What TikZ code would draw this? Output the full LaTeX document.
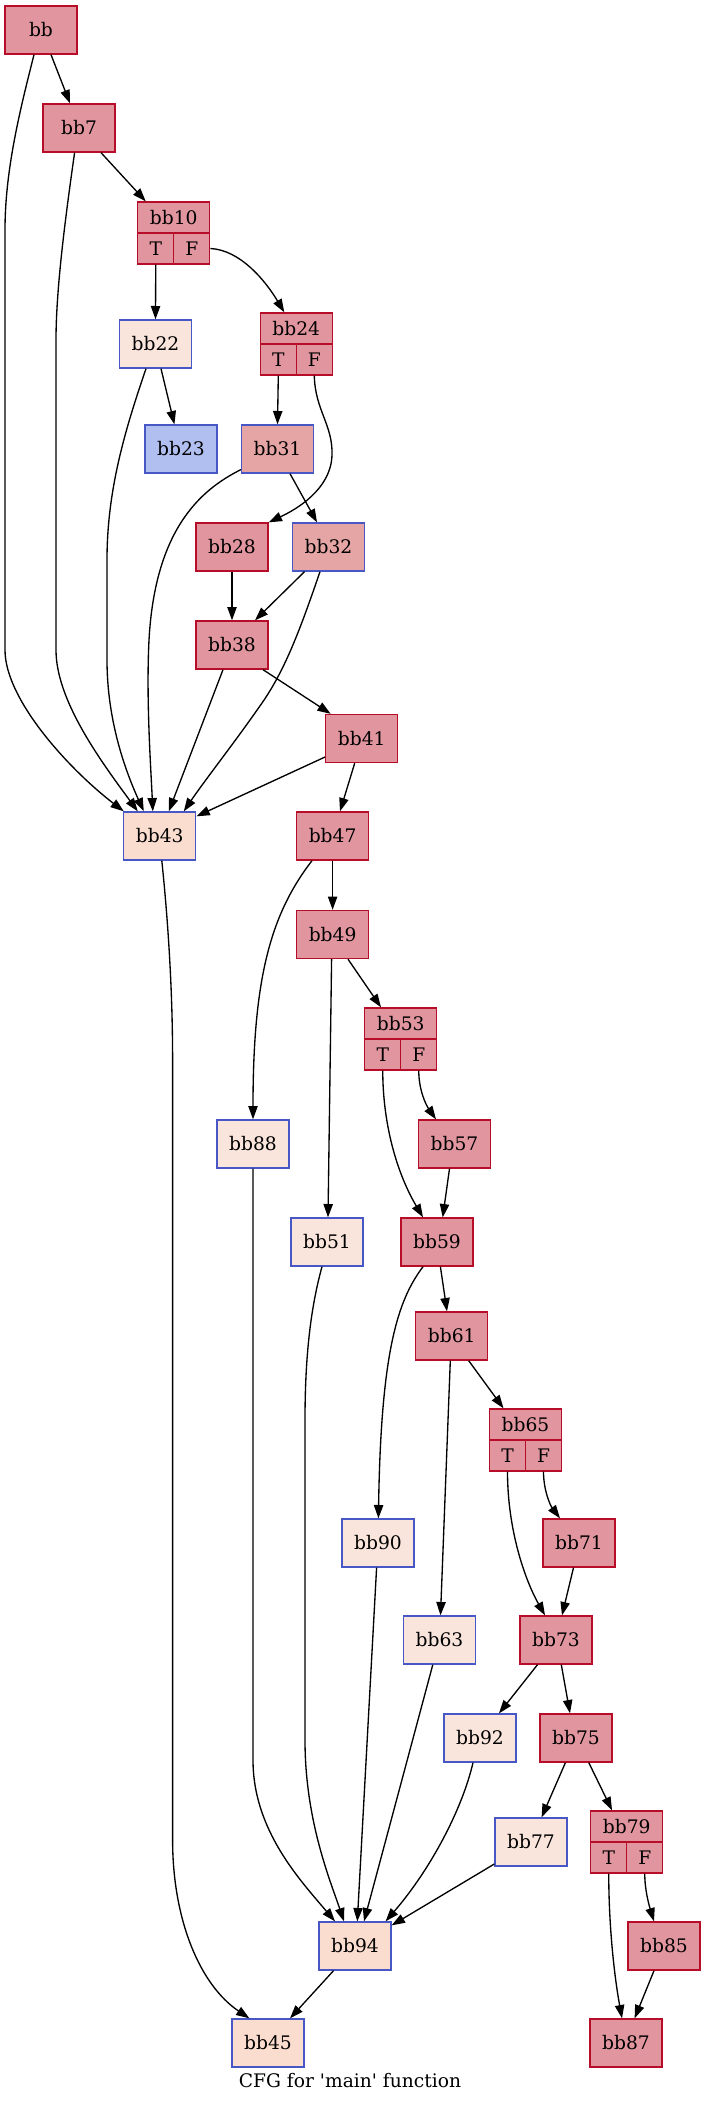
\documentclass[tikz,border=0pt]{standalone}
\usepackage{fontspec}
\setmainfont{DejaVu Serif}
\usetikzlibrary{calc,arrows.meta}
\definecolor{hotb}{HTML}{B70D28}
\definecolor{hotf}{HTML}{E0959F}
\definecolor{coldb}{HTML}{4758C6}
\definecolor{warmf}{HTML}{FBDDD0}
\definecolor{palef}{HTML}{F9E5DC}
\definecolor{bluef}{HTML}{B1BEF0}
\definecolor{midf}{HTML}{E5A5A5}
\tikzset{
  bbox/.style={rectangle, line width=1pt, minimum width=54pt, minimum height=36pt, inner sep=0pt, font=\fontsize{14}{16}\selectfont},
  hot/.style={bbox, draw=hotb, fill=hotf},
  hothead/.style={hot, minimum height=23.25pt},
  hotcell/.style={hot, minimum height=23.25pt, minimum width=27pt},
  warm/.style={bbox, draw=coldb, fill=warmf},
  pale/.style={bbox, draw=coldb, fill=palef},
  blue/.style={bbox, draw=coldb, fill=bluef},
  mid/.style={bbox, draw=coldb, fill=midf},
  e/.style={line width=1pt, -{Triangle[length=10pt,width=7pt]}},
}
\begin{document}
\begin{tikzpicture}[x=0.75pt,y=-0.75pt]
\useasboundingbox (0,0) rectangle (701,2104);
% nodes
\node[hot] (bb) at (41,30) {bb};
\node[hot] (bb7) at (79,128) {bb7};
\node[hothead] (bb10) at (173.75,217.5) {bb10};
\node[hotcell] (bb10T) at (155.75,248.5) {T};
\node[hotcell] (bb10F) at (191.75,248.5) {F};
\node[pale] (bb22) at (155.5,344) {bb22};
\node[hothead] (bb24) at (296.3,328.5) {bb24};
\node[hotcell] (bb24T) at (278.3,359.5) {T};
\node[hotcell] (bb24F) at (314.3,359.5) {F};
\node[blue] (bb23) at (181,449) {bb23};
\node[mid] (bb31) at (277.5,449) {bb31};
\node[hot] (bb28) at (232,547) {bb28};
\node[mid] (bb32) at (328.5,547) {bb32};
\node[hot] (bb38) at (232,645) {bb38};
\node[hot] (bb41) at (361.7,738.5) {bb41};
\node[warm] (bb43) at (159.8,836) {bb43};
\node[hot] (bb47) at (332.6,836) {bb47};
\node[hot] (bb49) at (332.6,934.5) {bb49};
\node[hothead] (bb53) at (400.75,1023.5) {bb53};
\node[hotcell] (bb53T) at (382.75,1054.5) {T};
\node[hotcell] (bb53F) at (418.75,1054.5) {F};
\node[pale] (bb88) at (253,1144) {bb88};
\node[hot] (bb57) at (454.5,1144) {bb57};
\node[pale] (bb51) at (327,1242) {bb51};
\node[hot] (bb59) at (437,1242) {bb59};
\node[hot] (bb61) at (451.7,1336) {bb61};
\node[hothead] (bb65) at (525.5,1424.5) {bb65};
\node[hotcell] (bb65T) at (507.5,1455.5) {T};
\node[hotcell] (bb65F) at (543.5,1455.5) {F};
\node[pale] (bb90) at (378,1543) {bb90};
\node[hot] (bb71) at (579,1543) {bb71};
\node[pale] (bb63) at (439.5,1640) {bb63};
\node[hot] (bb73) at (556,1640) {bb73};
\node[pale] (bb92) at (480,1738) {bb92};
\node[hot] (bb75) at (576,1738) {bb75};
\node[pale] (bb77) at (531,1842) {bb77};
\node[hothead] (bb79) at (626.75,1826.5) {bb79};
\node[hotcell] (bb79T) at (608.75,1857.5) {T};
\node[hotcell] (bb79F) at (644.75,1857.5) {F};
\node[warm] (bb94) at (355,1946) {bb94};
\node[hot] (bb85) at (664,1946) {bb85};
\node[warm] (bb45) at (268,2043) {bb45};
\node[hot] (bb87) at (626,2043) {bb87};
\node[font=\fontsize{14}{16}\selectfont, inner sep=0pt] (cap) at (350,2081) {CFG for \textquotesingle main\textquotesingle{} function};
% edges
\draw[e] ($(bb.south)+(10,0)$) -- ($(bb7.north)+(-9,0)$);
\draw[e] ($(bb.south)+(-7,0)$) .. controls (20,110) and (5,170) .. (5,230) -- (5,650) .. controls (5,700) and (70,770) .. ($(bb43.north)+(-36,0)$);
\draw[e] ($(bb7.south)+(22,0)$) -- ($(bb10.north)+(-28,0)$);
\draw[e] ($(bb7.south)+(-4.4,0)$) .. controls (65,220) and (56,290) .. (56,340) -- (56,650) .. controls (56,700) and (100,760) .. ($(bb43.north)+(-22,0)$);
\draw[e] (bb10T.south) -- (bb22.north);
\draw[e] (bb10F.east) .. controls (240,250) and (265,280) .. ($(bb24.north)+(-12,0)$);
\draw[e] ($(bb22.south)+(5.5,0)$) -- ($(bb23.north)+(-6.6,0)$);
\draw[e] ($(bb22.south)+(-9.5,0)$) .. controls (125,430) and (107,490) .. (107,560) -- (107,660) .. controls (107,720) and (125,770) .. ($(bb43.north)+(-16,0)$);
\draw[e] (bb24T.south) -- (bb31.north);
\draw[e] (bb24F.south) .. controls (315,410) and (333,425) .. (332,455) .. controls (331,490) and (295,510) .. (bb28.north east);
\draw[e] ($(bb31.south)+(12.5,0)$) -- ($(bb32.north)+(-11.5,0)$);
\draw[e] ($(bb31.south west)+(0,-4)$) .. controls (200,490) and (155,530) .. (149,640) .. controls (146,700) and (151,770) .. ($(bb43.north)+(-7,0)$);
\draw[e] (bb28.south) -- (bb38.north);
\draw[e] ($(bb32.south)+(-24,0)$) -- ($(bb38.north)+(23,0)$);
\draw[e] ($(bb32.south)+(-8.5,0)$) .. controls (300,630) and (285,670) .. (262,703) .. controls (235,742) and (205,780) .. ($(bb43.north)+(24,0)$);
\draw[e] ($(bb38.south)+(31,0)$) -- ($(bb41.north)+(-31,0)$);
\draw[e] ($(bb38.south)+(-9,0)$) -- ($(bb43.north)+(9,0)$);
\draw[e] ($(bb41.west)+(0,18.5)$) -- ($(bb43.north east)+(0,5)$);
\draw[e] ($(bb41.south)+(-7,0)$) -- ($(bb47.north)+(7.4,0)$);
\draw[e] ($(bb43.south)+(2,0)$) .. controls (168,920) and (172.6,990) .. (172.6,1060) -- (172.6,1840) .. controls (172.6,1920) and (200,1985) .. ($(bb45.north)+(-18.6,0)$);
\draw[e] (bb47.south) -- (bb49.north);
\draw[e] ($(bb47.south)+(-20.6,0)$) .. controls (270,915) and (253,980) .. (bb88.north);
\draw[e] ($(bb49.south)+(15.4,0)$) -- ($(bb53.north)+(-19.75,0)$);
\draw[e] ($(bb49.south)+(-1,0)$) -- ($(bb51.north)+(1,0)$);
\draw[e] (bb53T.south) .. controls (382.75,1120) and (395,1170) .. ($(bb59.north)+(-14,0)$);
\draw[e] (bb53F.south) .. controls (418.75,1090) and (426,1105) .. ($(bb57.north)+(-18.5,0)$);
\draw[e] ($(bb57.south)+(-5,0)$) -- ($(bb59.north)+(5.7,0)$);
\draw[e] ($(bb59.south)+(3.4,0)$) -- ($(bb61.north)+(-4.7,0)$);
\draw[e] ($(bb59.south)+(-14,0)$) .. controls (398,1300) and (381,1350) .. ($(bb90.north)+(0.4,0)$);
\draw[e] ($(bb61.south)+(17,0)$) -- ($(bb65.north)+(-22,0)$);
\draw[e] ($(bb61.south)+(-1.4,0)$) -- ($(bb63.north)+(1,0)$);
\draw[e] (bb65T.south) .. controls (507.5,1530) and (525,1580) .. ($(bb73.north)+(-11,0)$);
\draw[e] (bb65F.south) .. controls (543.5,1490) and (550,1505) .. ($(bb71.north)+(-19,0)$);
\draw[e] ($(bb71.south)+(-5.5,0)$) -- ($(bb73.north)+(6,0)$);
\draw[e] ($(bb73.south)+(-18.5,0)$) -- ($(bb92.north)+(19,0)$);
\draw[e] ($(bb73.south)+(5.3,0)$) -- ($(bb75.north)+(-6,0)$);
\draw[e] ($(bb75.south)+(-10.6,0)$) -- ($(bb77.north)+(10.6,0)$);
\draw[e] ($(bb75.south)+(12.8,0)$) -- ($(bb79.north)+(-14.7,0)$);
\draw[e] (bb79T.south) .. controls (608.75,1930) and (615,1980) .. ($(bb87.north)+(-4,0)$);
\draw[e] (bb79F.south) .. controls (644.75,1890) and (649,1905) .. ($(bb85.north)+(-10,0)$);
\draw[e] ($(bb85.south)+(-10,0)$) -- ($(bb87.north)+(8.6,0)$);
\draw[e] (bb88.south) -- (253,1760) .. controls (253,1830) and (300,1880) .. ($(bb94.north)+(-20,0)$);
\draw[e] ($(bb51.south)+(-5,0)$) .. controls (310,1310) and (305,1360) .. (305,1420) -- (305,1740) .. controls (305,1820) and (330,1880) .. ($(bb94.north)+(-11,0)$);
\draw[e] ($(bb90.south)+(-1.4,0)$) -- ($(bb94.north)+(2.3,0)$);
\draw[e] ($(bb63.south)+(-6.7,0)$) -- ($(bb94.north)+(9,0)$);
\draw[e] ($(bb92.south)+(-7,0)$) .. controls (462,1810) and (430,1870) .. ($(bb94.north)+(30.6,0)$);
\draw[e] ($(bb77.west)+(0,22)$) -- ($(bb94.north east)+(0,4)$);
\draw[e] ($(bb94.south)+(-21.5,0)$) -- ($(bb45.north)+(22,0)$);
\end{tikzpicture}
\end{document}
